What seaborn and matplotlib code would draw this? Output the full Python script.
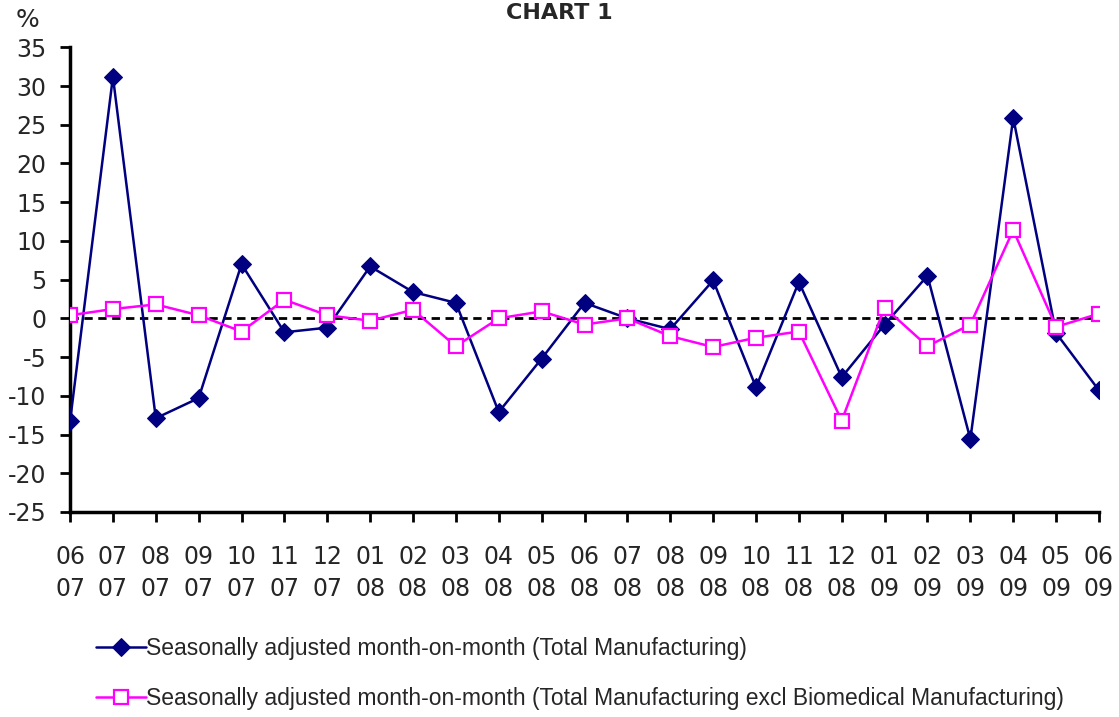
import pandas as pd
import matplotlib.pyplot as plt
import seaborn as sns

# month labels (month over year)
months = ['06', '07', '08', '09', '10', '11', '12', '01', '02', '03', '04', '05', '06',
          '07', '08', '09', '10', '11', '12', '01', '02', '03', '04', '05', '06']
years = ['07'] * 7 + ['08'] * 12 + ['09'] * 6

total_mfg = [-13.3, 31.2, -12.9, -10.3, 7.0, -1.8, -1.2, 6.7, 3.4, 2.0, -12.1, -5.2, 2.0,
             0.0, -1.4, 4.9, -8.9, 4.7, -7.6, -0.8, 5.5, -15.6, 25.9, -1.9, -9.3]
excl_biomed = [0.4, 1.2, 1.8, 0.4, -1.7, 2.4, 0.4, -0.3, 1.1, -3.6, 0.0, 0.9, -0.8,
               0.0, -2.3, -3.7, -2.5, -1.7, -13.2, 1.4, -3.6, -0.8, 11.4, -1.1, 0.6]

lbl_total = 'Seasonally adjusted month-on-month (Total Manufacturing)'
lbl_excl = 'Seasonally adjusted month-on-month (Total Manufacturing excl Biomedical Manufacturing)'

df = pd.DataFrame({'pos': range(len(months)), 'total': total_mfg, 'excl': excl_biomed})

sns.set_style('ticks')
plt.rcParams['font.family'] = ['DejaVu Sans']
plt.rcParams['axes.unicode_minus'] = False

fig = plt.figure(figsize=(11.19, 7.17), dpi=100)
ax = fig.add_axes([0.0626, 0.286, 0.9195, 0.648])

ax.axhline(0, color='black', lw=2, ls=(0, (3, 2)), zorder=1)

sns.lineplot(data=df, x='pos', y='total', ax=ax, color='#000080', lw=1.8,
             marker='D', markersize=9, markeredgecolor='#000080', label=lbl_total, zorder=3)
sns.lineplot(data=df, x='pos', y='excl', ax=ax, color='#FF00FF', lw=1.8,
             marker='s', markersize=10.5, markerfacecolor='white', markeredgecolor='#FF00FF',
             markeredgewidth=1.6, label=lbl_excl, zorder=4)

ax.set_xlim(0, len(months) - 1)
ax.set_ylim(-25, 35)
ax.set_yticks(range(-25, 36, 5))
ax.set_xticks(df['pos'])
ax.set_xticklabels([f'{m}\n{y}' for m, y in zip(months, years)], linespacing=1.4)
ax.tick_params(axis='both', labelsize=17, width=2, length=7, direction='out', color='black')
ax.tick_params(axis='x', pad=17)
ax.tick_params(axis='y', pad=10)
ax.set_xlabel('')
ax.set_ylabel('')

sns.despine(ax=ax)
for side in ['left', 'bottom']:
    ax.spines[side].set_linewidth(2.5)
    ax.spines[side].set_color('black')

handles, labels = ax.get_legend_handles_labels()
ax.get_legend().remove()
fig.legend(handles, labels, loc='upper left', bbox_to_anchor=(0.067, 0.14),
           frameon=False, handlelength=2.2, handletextpad=0.0, labelspacing=1.17,
           borderpad=0.4, prop={'family': 'Liberation Sans', 'size': 16.5})

fig.text(0.5, 0.982, 'CHART 1', ha='center', va='center', fontsize=16, fontweight='bold')
fig.text(0.025, 0.972, '%', ha='center', va='center', fontsize=18)

fig.savefig('out.png', dpi=100)
